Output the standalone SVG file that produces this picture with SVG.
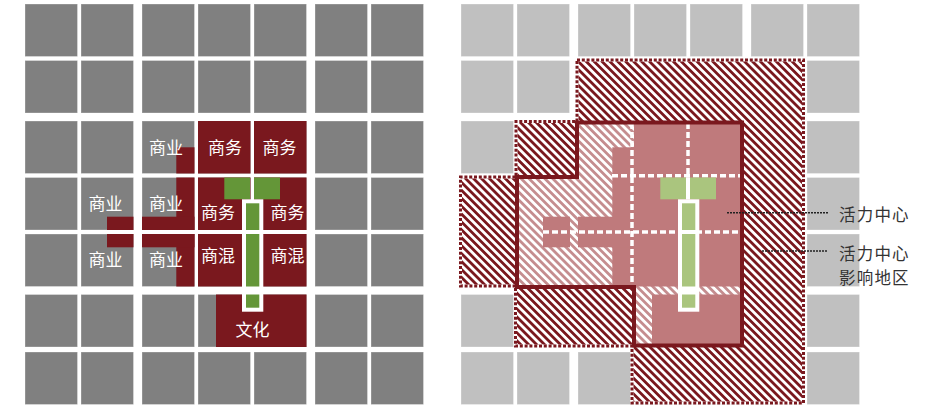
<svg xmlns="http://www.w3.org/2000/svg" width="929" height="407" viewBox="0 0 929 407">
<style>
.red{fill:#7A181E}
.grn{fill:#649638}
.pink{fill:#BF7A7C}
.lgrn{fill:#AAC57E}
.wht{fill:#fff}
.lbl{font-family:"Noto Sans CJK SC","Noto Sans",sans-serif;font-size:17px;fill:#fff;text-anchor:middle}
.note{font-family:"Noto Sans CJK SC","Noto Sans",sans-serif;font-size:16.5px;fill:#333;letter-spacing:1.2px}
.dash{stroke:#fff;stroke-width:3.5;stroke-dasharray:6 3;fill:none}
.lead{stroke:#222;stroke-width:1.6;stroke-dasharray:2 1;fill:none}
</style>
<defs>
<g id="row">
<rect x="25" y="0" width="52.5" height="52.5"/>
<rect x="81" y="0" width="52.5" height="52.5"/>
<rect x="142" y="0" width="52.5" height="52.5"/>
<rect x="198" y="0" width="52.5" height="52.5"/>
<rect x="254" y="0" width="52.5" height="52.5"/>
<rect x="315" y="0" width="52.5" height="52.5"/>
<rect x="371" y="0" width="52.5" height="52.5"/>
</g>
<pattern id="hatchDark" width="5.6" height="10" patternUnits="userSpaceOnUse" patternTransform="rotate(-45)">
<rect width="5.6" height="10" fill="#fff"/>
<rect width="2.8" height="10" fill="#7A181E"/>
</pattern>
<pattern id="hatchLight" width="5.6" height="10" patternUnits="userSpaceOnUse" patternTransform="rotate(-45)">
<rect width="5.6" height="10" fill="#fff"/>
<rect width="2.8" height="10" fill="#C58D8F"/>
</pattern>
</defs>
<rect width="929" height="407" fill="#fff"/>

<!-- Left panel -->
<g id="left-grid" fill="#808080" stroke="#fff" stroke-opacity="0.3" stroke-width="1">
<use href="#row" y="4"/>
<use href="#row" y="60.5"/>
<use href="#row" y="121"/>
<use href="#row" y="177.5"/>
<use href="#row" y="234"/>
<use href="#row" y="294.5"/>
<use href="#row" y="352"/>
</g>
<g id="left-zones">
<rect class="red" x="176.3" y="147.3" width="18.2" height="26.2"/>
<rect class="red" x="198" y="121" width="52.5" height="52.5"/>
<rect class="red" x="254" y="121" width="52.5" height="52.5"/>
<rect class="red" x="176.3" y="177.5" width="18.2" height="52.5"/>
<rect class="red" x="142" y="216.7" width="52.5" height="13.3"/>
<rect class="red" x="107" y="216.7" width="26.5" height="13.3"/>
<rect class="red" x="176.3" y="234" width="18.2" height="52.5"/>
<rect class="red" x="142" y="234" width="52.5" height="13.3"/>
<rect class="red" x="107" y="234" width="26.5" height="13.3"/>
<rect class="red" x="198" y="177.5" width="52.5" height="52.5"/>
<rect class="red" x="254" y="177.5" width="52.5" height="52.5"/>
<rect class="red" x="198" y="234" width="52.5" height="52.5"/>
<rect class="red" x="254" y="234" width="52.5" height="52.5"/>
<rect class="red" x="216" y="294.5" width="90.5" height="52.5"/>
</g>
<g id="left-axis">
<rect class="grn" x="224.3" y="177.5" width="25.7" height="21.8"/>
<rect class="grn" x="254" y="177.5" width="26" height="21.8"/>
<rect class="wht" x="242" y="199.3" width="21.3" height="112.4"/>
<rect class="grn" x="246" y="203.3" width="13.3" height="26.7"/>
<rect class="grn" x="246" y="234" width="13.3" height="52.5"/>
<rect class="grn" x="246" y="294.5" width="13.3" height="13.2"/>
</g>
<g id="left-labels">
<text class="lbl" x="166" y="154">商业</text>
<text class="lbl" x="225" y="154">商务</text>
<text class="lbl" x="279.5" y="154">商务</text>
<text class="lbl" x="105.5" y="210">商业</text>
<text class="lbl" x="166" y="210">商业</text>
<text class="lbl" x="218" y="218.5">商务</text>
<text class="lbl" x="287.5" y="218.5">商务</text>
<text class="lbl" x="105.5" y="266">商业</text>
<text class="lbl" x="166" y="266">商业</text>
<text class="lbl" x="218" y="262">商混</text>
<text class="lbl" x="287.5" y="262">商混</text>
<text class="lbl" x="252.5" y="335.5">文化</text>
</g>

<!-- Right panel -->
<g id="right-grid" fill="#C0C0C0" stroke="#fff" stroke-opacity="0.3" stroke-width="1" transform="translate(436,0)">
<use href="#row" y="4"/>
<use href="#row" y="60.5"/>
<use href="#row" y="121"/>
<use href="#row" y="177.5"/>
<use href="#row" y="234"/>
<use href="#row" y="294.5"/>
<use href="#row" y="352"/>
</g>
<g id="influence-zone">
<polygon points="577,60 803.5,60 803.5,403 632,403 632,346 515.5,346 515.5,286 460.5,286 460.5,177 516,177 516,121.5 577,121.5" fill="url(#hatchDark)" stroke="#fff" stroke-width="3"/>
<polygon points="577,60 803.5,60 803.5,403 632,403 632,346 515.5,346 515.5,286 460.5,286 460.5,177 516,177 516,121.5 577,121.5" fill="none" stroke="#7A181E" stroke-width="3" stroke-dasharray="3 1.8"/>
</g>
<g id="vitality-center">
<polygon points="577,122.5 742,122.5 742,345.5 634,345.5 634,287 517,287 517,177 577,177" fill="url(#hatchLight)"/>
<rect class="pink" x="634" y="121" width="108" height="165.5"/>
<rect class="pink" x="612.3" y="147.3" width="22" height="139.2"/>
<rect class="pink" x="578" y="216.7" width="56" height="30.6"/>
<rect class="pink" x="543" y="216.7" width="27" height="30.6"/>
<rect class="pink" x="652" y="294.5" width="90" height="51"/>
<line class="dash" x1="612" y1="175.7" x2="742" y2="175.7"/>
<line class="dash" x1="543" y1="232" x2="742" y2="232"/>
<line class="dash" x1="632" y1="123" x2="632" y2="286.5"/>
<line class="dash" x1="688" y1="123" x2="688" y2="177.5"/>
<rect class="wht" x="686" y="177.5" width="4" height="22"/>
<rect class="lgrn" x="660.3" y="177.5" width="25.7" height="21.8"/>
<rect class="lgrn" x="690" y="177.5" width="26" height="21.8"/>
<rect class="wht" x="678" y="199.3" width="21.3" height="112.4"/>
<rect class="lgrn" x="682" y="203.3" width="13.3" height="26.7"/>
<rect class="lgrn" x="682" y="234" width="13.3" height="52.5"/>
<rect class="lgrn" x="682" y="294.5" width="13.3" height="13.2"/>
<polygon points="577,122.5 742,122.5 742,345.5 634,345.5 634,287 517,287 517,177 577,177" fill="none" stroke="#7A181E" stroke-width="4"/>
</g>
<g id="connectors">
<line class="lead" x1="727" y1="212.7" x2="828" y2="212.7"/>
<line class="lead" x1="762" y1="251" x2="828" y2="251"/>
</g>
<g id="legend">
<text class="note" x="839" y="221">活力中心</text>
<text class="note" x="839" y="260">活力中心</text>
<text class="note" x="839" y="284">影响地区</text>
</g>
</svg>
